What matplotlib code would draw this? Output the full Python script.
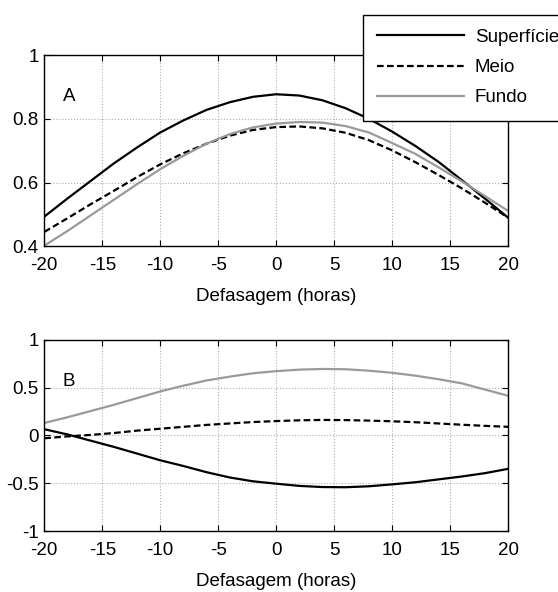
import matplotlib
matplotlib.use('Agg')
import matplotlib.pyplot as plt

# defasagem em horas
defasagem = [-20, -18, -16, -14, -12, -10, -8, -6, -4, -2, 0,
             2, 4, 6, 8, 10, 12, 14, 16, 18, 20]

# painel A
sup_a = [0.493, 0.550, 0.605, 0.660, 0.710, 0.757, 0.795, 0.828, 0.852, 0.869, 0.877,
         0.873, 0.858, 0.833, 0.800, 0.760, 0.715, 0.665, 0.608, 0.550, 0.490]
meio_a = [0.445, 0.488, 0.532, 0.574, 0.617, 0.657, 0.692, 0.722, 0.747, 0.765, 0.774,
          0.776, 0.770, 0.756, 0.733, 0.701, 0.664, 0.624, 0.582, 0.537, 0.490]
fundo_a = [0.402, 0.448, 0.497, 0.546, 0.595, 0.642, 0.684, 0.722, 0.752, 0.773, 0.785,
           0.790, 0.788, 0.777, 0.757, 0.724, 0.690, 0.648, 0.604, 0.558, 0.511]

# painel B
sup_b = [0.065, 0.010, -0.055, -0.120, -0.190, -0.260, -0.320, -0.385, -0.440, -0.480, -0.505,
         -0.528, -0.540, -0.542, -0.532, -0.512, -0.490, -0.460, -0.430, -0.395, -0.350]
meio_b = [-0.030, -0.010, 0.005, 0.025, 0.050, 0.070, 0.090, 0.110, 0.125, 0.140, 0.150,
          0.158, 0.162, 0.160, 0.155, 0.148, 0.138, 0.125, 0.112, 0.100, 0.090]
fundo_b = [0.130, 0.190, 0.255, 0.320, 0.390, 0.460, 0.520, 0.575, 0.615, 0.650, 0.672,
           0.688, 0.695, 0.692, 0.677, 0.655, 0.625, 0.588, 0.545, 0.480, 0.415]

rotulos = ['Superfície', 'Meio', 'Fundo']

plt.rcParams['font.family'] = ['Liberation Sans', 'DejaVu Sans']
plt.rcParams['font.size'] = 13.5
plt.rcParams['axes.unicode_minus'] = False

fig = plt.figure(figsize=(5.58, 5.92), dpi=100)
ax1 = fig.add_axes([0.0794, 0.584, 0.831, 0.323])
ax2 = fig.add_axes([0.0794, 0.103, 0.831, 0.323])

cinza = '#9a9a9a'


def formata(ax, ylim, yticks, letra):
    ax.set_xlim(-20, 20)
    ax.set_ylim(*ylim)
    ax.set_xticks(range(-20, 21, 5))
    ax.set_yticks(yticks)
    ax.set_yticklabels(['%g' % v for v in yticks])
    ax.grid(True, color='#b0b0b0', linestyle=':', linewidth=0.8)
    ax.tick_params(direction='in', top=True, right=True, length=4)
    ax.tick_params(axis='x', pad=8)
    ax.tick_params(axis='y', pad=4)
    ax.set_xlabel('Defasagem (horas)', labelpad=10)
    ax.text(0.04, 0.76, letra, transform=ax.transAxes)
    for s in ax.spines.values():
        s.set_linewidth(1.0)


# grafico A
l1, = ax1.plot(defasagem, sup_a, color='black', linewidth=1.6)
l2, = ax1.plot(defasagem, meio_a, color='black', linestyle='--', dashes=(3, 1.5), linewidth=1.6)
l3, = ax1.plot(defasagem, fundo_a, color=cinza, linewidth=1.6)
formata(ax1, (0.4, 1.0), [0.4, 0.6, 0.8, 1.0], 'A')

# grafico B
ax2.plot(defasagem, sup_b, color='black', linewidth=1.6)
ax2.plot(defasagem, meio_b, color='black', linestyle='--', dashes=(3, 1.5), linewidth=1.6)
ax2.plot(defasagem, fundo_b, color=cinza, linewidth=1.6)
formata(ax2, (-1, 1), [-1, -0.5, 0, 0.5, 1], 'B')

leg = fig.legend([l1, l2, l3], rotulos, loc='upper left',
                 bbox_to_anchor=(0.651, 0.975), bbox_transform=fig.transFigure,
                 fancybox=False, framealpha=1, edgecolor='black',
                 handlelength=4.6, handletextpad=0.6, labelspacing=0.7,
                 borderpad=0.75, borderaxespad=0)
leg.get_frame().set_linewidth(1.0)

fig.savefig('out.png', dpi=100)
